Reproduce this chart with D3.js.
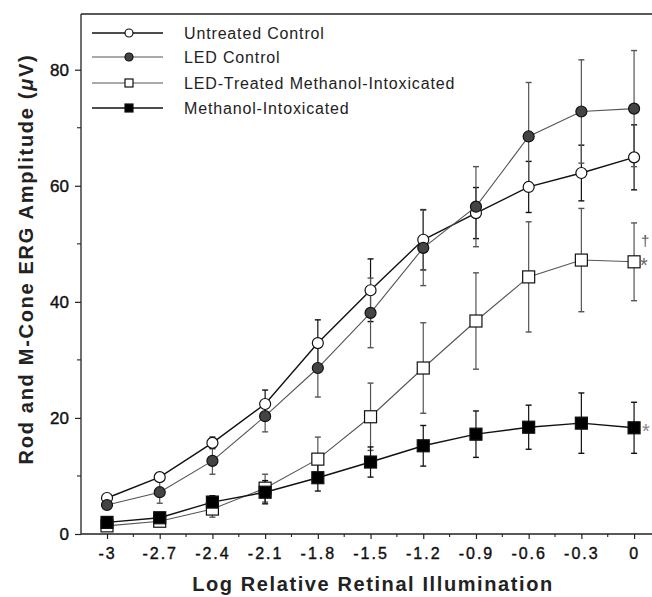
<!DOCTYPE html>
<html>
<head>
<meta charset="utf-8">
<script src="https://cdn.jsdelivr.net/npm/d3@7"></script>
<style>
  body { margin: 0; background: #fff; }
  svg { display: block; font-family: "Liberation Sans", Arial, sans-serif; }
</style>
</head>
<body>
<svg width="652" height="597"></svg>
<script>
// x positions (log relative retinal illumination)
var xValues = [-3, -2.7, -2.4, -2.1, -1.8, -1.5, -1.2, -0.9, -0.6, -0.3, 0];
var xTickLabels = ["-3", "-2.7", "-2.4", "-2.1", "-1.8", "-1.5", "-1.2", "-0.9", "-0.6", "-0.3", "0"];

// series means and error bars (uV)
var untreatedMean = [6.2, 9.8, 15.7, 22.4, 32.9, 42.0, 50.7, 55.3, 59.8, 62.2, 64.9];
var untreatedErr  = [0.6, 0.6, 1.0, 2.4, 4.0, 5.4, 5.2, 4.4, 4.4, 4.8, 5.6];
var ledMean = [5.0, 7.2, 12.6, 20.3, 28.6, 38.1, 49.3, 56.4, 68.5, 72.8, 73.3];
var ledErr  = [0.6, 1.9, 2.3, 2.7, 5.0, 6.0, 6.5, 6.9, 9.3, 8.9, 10.0];
var treatedMean = [1.4, 2.2, 4.3, 7.9, 12.9, 20.2, 28.6, 36.7, 44.3, 47.2, 46.9];
var treatedErr  = [0.5, 0.5, 1.4, 2.4, 3.8, 5.8, 7.8, 8.3, 9.5, 8.9, 6.7];
var methMean = [2.0, 2.8, 5.5, 7.2, 9.7, 12.4, 15.2, 17.2, 18.4, 19.1, 18.3];
var methErr  = [0.5, 0.6, 1.1, 2.0, 2.3, 2.6, 3.5, 4.0, 3.8, 5.2, 4.4];

var yTicks = [0, 20, 40, 60, 80];

var series = [
  { name: "Untreated Control", mean: untreatedMean, err: untreatedErr, shape: "circle", fill: "#fff", line: "#111", width: 1.4 },
  { name: "LED Control", mean: ledMean, err: ledErr, shape: "circle", fill: "#444", line: "#555", width: 1.1 },
  { name: "LED-Treated Methanol-Intoxicated", mean: treatedMean, err: treatedErr, shape: "square", fill: "#fff", line: "#555", width: 1.1 },
  { name: "Methanol-Intoxicated", mean: methMean, err: methErr, shape: "square", fill: "#000", line: "#111", width: 1.4 }
];

var svg = d3.select("svg");
var plotLeft = 81, plotRight = 652, plotTop = 14, plotBottom = 534;

var x = d3.scaleLinear().domain([-3.148, 0.102]).range([plotLeft, plotRight]);
var y = d3.scaleLinear().domain([0, 89.6]).range([plotBottom, plotTop]);

// frame: top line
svg.append("line")
  .attr("x1", plotLeft).attr("x2", plotRight).attr("y1", plotTop).attr("y2", plotTop)
  .attr("stroke", "#222").attr("stroke-width", 1.3);

// y axis
var yAxis = svg.append("g").attr("transform", "translate(" + plotLeft + ",0)")
  .call(d3.axisLeft(y).tickValues(yTicks).tickSize(6).tickPadding(6));
yAxis.select(".domain").attr("d", "M0," + plotTop + "V" + plotBottom).attr("stroke", "#222").attr("stroke-width", 1.3);
yAxis.selectAll(".tick line").attr("stroke", "#222").attr("stroke-width", 1.2);
yAxis.selectAll(".tick text").attr("font-size", 17).attr("fill", "#111")
  .attr("stroke", "#111").attr("stroke-width", 0.4)
  .attr("font-family", "Liberation Sans, Arial, sans-serif");
// minor y ticks
svg.append("g").selectAll("line").data([10, 30, 50, 70]).enter().append("line")
  .attr("x1", plotLeft - 4).attr("x2", plotLeft).attr("y1", d => y(d)).attr("y2", d => y(d))
  .attr("stroke", "#222").attr("stroke-width", 1.1);

// x axis
var xAxis = svg.append("g").attr("transform", "translate(0," + plotBottom + ")")
  .call(d3.axisBottom(x).tickValues(xValues).tickFormat((d, i) => xTickLabels[i]).tickSize(5).tickPadding(9));
xAxis.select(".domain").attr("d", "M" + plotLeft + ",0H" + plotRight).attr("stroke", "#222").attr("stroke-width", 1.3);
xAxis.selectAll(".tick line").attr("stroke", "#222").attr("stroke-width", 1.2);
xAxis.selectAll(".tick text").attr("font-size", 16).attr("fill", "#111")
  .attr("stroke", "#111").attr("stroke-width", 0.4)
  .attr("letter-spacing", "2px")
  .attr("font-family", "Liberation Sans, Arial, sans-serif");
// minor x ticks
svg.append("g").selectAll("line").data(xValues.slice(1)).enter().append("line")
  .attr("x1", d => x(d - 0.15)).attr("x2", d => x(d - 0.15))
  .attr("y1", plotBottom).attr("y2", plotBottom + 3)
  .attr("stroke", "#222").attr("stroke-width", 1.1);

// axis titles
svg.append("text")
  .attr("transform", "translate(33,259) rotate(-90)")
  .attr("text-anchor", "middle")
  .attr("font-size", 20).attr("font-weight", "bold").attr("fill", "#222")
  .attr("letter-spacing", "1.7px")
  .html('Rod and M-Cone ERG Amplitude (<tspan font-style="italic">\u03bc</tspan>V)');

svg.append("text")
  .attr("x", 373).attr("y", 591)
  .attr("text-anchor", "middle")
  .attr("font-size", 20).attr("font-weight", "bold").attr("fill", "#222")
  .attr("letter-spacing", "1.6px")
  .text("Log Relative Retinal Illumination");

function drawMarker(g, shape, cx, cy, fill, size) {
  if (shape === "circle") {
    g.append("circle").attr("cx", cx).attr("cy", cy).attr("r", size / 2)
      .attr("fill", fill).attr("stroke", "#111").attr("stroke-width", 1.2);
  } else {
    g.append("rect").attr("x", cx - size / 2).attr("y", cy - size / 2)
      .attr("width", size).attr("height", size)
      .attr("fill", fill).attr("stroke", "#111").attr("stroke-width", 1.2);
  }
}

// error bars (behind everything)
var bars = svg.append("g");
series.forEach(function(s) {
  xValues.forEach(function(xv, i) {
    var cx = x(xv), y1 = y(s.mean[i] + s.err[i]), y2 = y(s.mean[i] - s.err[i]);
    bars.append("line").attr("x1", cx).attr("x2", cx).attr("y1", y1).attr("y2", y2)
      .attr("stroke", s.line).attr("stroke-width", 1.2);
    [y1, y2].forEach(function(yy) {
      bars.append("line").attr("x1", cx - 3).attr("x2", cx + 3).attr("y1", yy).attr("y2", yy)
        .attr("stroke", s.line).attr("stroke-width", 1.4);
    });
  });
});

// lines
var line = d3.line().x((d, i) => x(xValues[i])).y(d => y(d));
series.forEach(function(s) {
  svg.append("path").datum(s.mean).attr("d", line)
    .attr("fill", "none").attr("stroke", s.line).attr("stroke-width", s.width);
});

// markers
series.forEach(function(s) {
  var g = svg.append("g");
  s.mean.forEach(function(v, i) {
    drawMarker(g, s.shape, x(xValues[i]), y(v), s.fill, s.shape === "circle" ? 11 : 12);
  });
});

// legend
var legendY = [33, 57, 83, 108];
var legend = svg.append("g");
series.forEach(function(s, i) {
  var ly = legendY[i];
  legend.append("line").attr("x1", 92).attr("x2", 163).attr("y1", ly).attr("y2", ly)
    .attr("stroke", s.line).attr("stroke-width", s.width);
  drawMarker(legend, s.shape, 129, ly, s.fill, 8);
  legend.append("text").attr("x", 184).attr("y", ly + 6)
    .attr("font-size", 16).attr("fill", "#222").attr("letter-spacing", "0.85px")
    .text(s.name);
});

// significance marks
svg.append("text").attr("x", 641).attr("y", 246).attr("font-size", 15).attr("fill", "#555").text("\u2020");
svg.append("text").attr("x", 640).attr("y", 272).attr("font-size", 20).attr("fill", "#666").text("*");
svg.append("text").attr("x", 642).attr("y", 438).attr("font-size", 20).attr("fill", "#888").text("*");
</script>
</body>
</html>
